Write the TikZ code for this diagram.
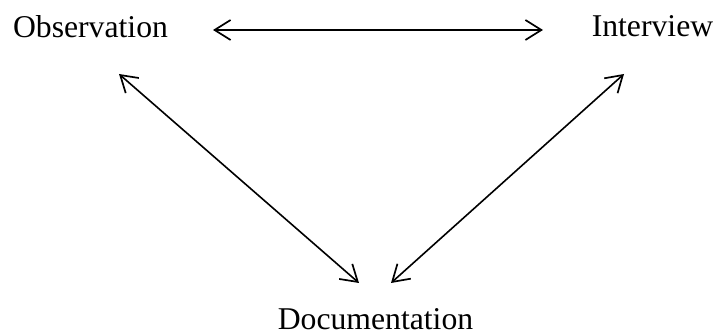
\documentclass[tikz,border=0pt]{standalone}
\usepackage{fontspec}
\setmainfont{Liberation Serif}
\usetikzlibrary{arrows.meta}
\begin{document}
\begin{tikzpicture}[x=1pt,y=1pt,
  lbl/.style={inner sep=0pt, anchor=base, font=\fontsize{31.7}{36}\selectfont},
  link/.style={line width=1.6pt, {Straight Barb[length=16pt,width=20pt,line width=1.7pt]}-{Straight Barb[length=16pt,width=20pt,line width=1.7pt]}}]
\useasboundingbox (0,0) rectangle (714,336);
\node[lbl] (obs) at (90.5,298) {Observation};
\node[lbl] (int) at (652.5,299) {Interview};
\node[lbl] (doc) at (375.5,6.5) {Documentation};
\coordinate (obsR) at (213,306);
\coordinate (intL) at (543,306);
\coordinate (obsD) at (119,262);
\coordinate (intD) at (624,262);
\coordinate (docL) at (359,53);
\coordinate (docR) at (391,53);
\draw[link] (obsR) -- (intL);
\draw[link] (obsD) -- (docL);
\draw[link] (intD) -- (docR);
\end{tikzpicture}
\end{document}
